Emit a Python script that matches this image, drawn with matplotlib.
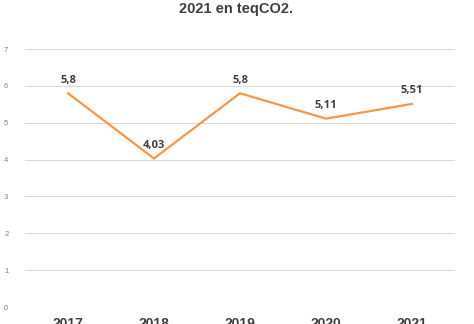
import matplotlib
matplotlib.use("Agg")
import matplotlib.pyplot as plt

years = ["2017", "2018", "2019", "2020", "2021"]
values = [5.8, 4.03, 5.8, 5.11, 5.51]
labels = ["5,8", "4,03", "5,8", "5,11", "5,51"]
yticks = [0, 1, 2, 3, 4, 5, 6, 7]

plt.rcParams['font.family'] = ['Liberation Sans', 'DejaVu Sans']

fig = plt.figure(figsize=(4.74, 3.24), dpi=100)
ax = fig.add_axes([25/474, 1 - 307/324, 430/474, (307-49)/324])

x = list(range(len(years)))
ax.plot(x, values, color='#F79646', linewidth=1.6, solid_joinstyle='miter')
for xi, v, lab in zip(x, values, labels):
    ax.annotate(lab, (xi, v), xytext=(0, 5.5), textcoords='offset points',
                ha='center', va='bottom', fontsize=8, fontweight='bold',
                color='#404040', family=['Open Sans', 'DejaVu Sans'])

ax.set_xlim(-0.5, 4.5)
ax.set_ylim(0, 7)
ax.set_yticks(yticks)
ax.set_yticklabels([str(t) for t in yticks], fontsize=5.5, color='#808080')
ax.set_xticks(x)
ax.set_xticklabels(years, fontsize=10, fontweight='bold', color='#404040')
ax.tick_params(axis='both', length=0)
ax.tick_params(axis='y', pad=12)
ax.tick_params(axis='x', pad=7)
ax.grid(axis='y', color='#D9D9D9', linewidth=0.75)
ax.set_axisbelow(True)
for s in ax.spines.values():
    s.set_visible(False)

fig.text(236/474, 1 - 9/324, "2021 en teqCO2.", ha='center', va='center',
         fontsize=10.5, fontweight='bold', color='#404040')

fig.savefig("out.png", dpi=100)
